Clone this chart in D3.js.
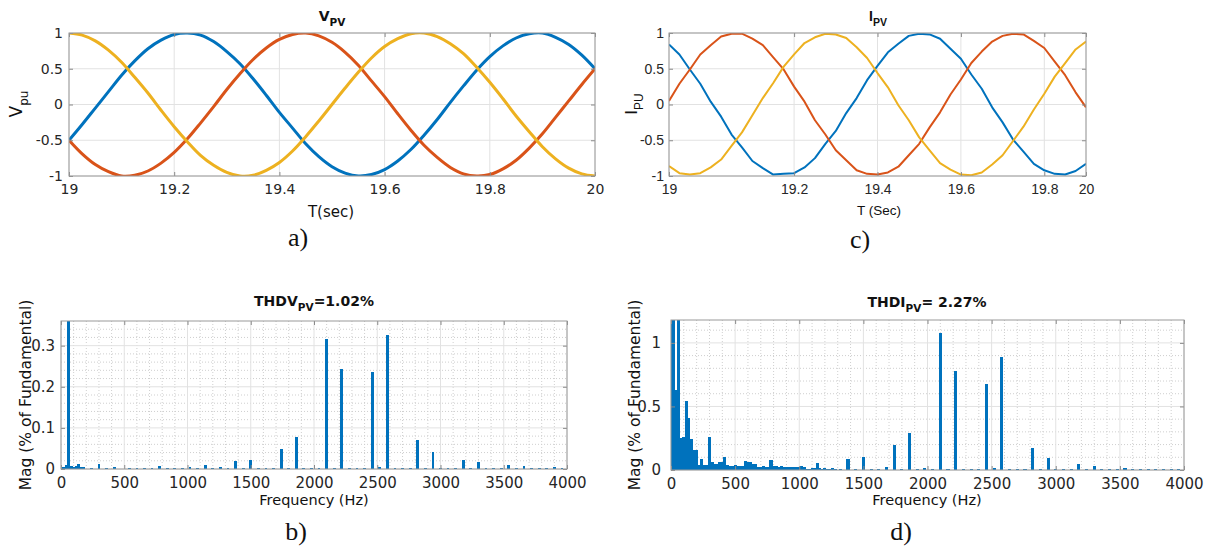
<!DOCTYPE html>
<html>
<head>
<meta charset="utf-8">
<script src="https://cdn.jsdelivr.net/npm/d3@7"></script>
<style>
  body { margin: 0; background: #fff; }
  svg { display: block; }
</style>
</head>
<body>
<svg id="fig" width="1210" height="552"></svg>
<script>
// ---- data ----
var timeSec = [19, 19.025, 19.05, 19.075, 19.1, 19.125, 19.15, 19.175, 19.2, 19.225,
  19.25, 19.275, 19.3, 19.325, 19.35, 19.375, 19.4, 19.425, 19.45, 19.475,
  19.5, 19.525, 19.55, 19.575, 19.6, 19.625, 19.65, 19.675, 19.7, 19.725,
  19.75, 19.775, 19.8, 19.825, 19.85, 19.875, 19.9, 19.925, 19.95, 19.975, 20];

// V_PV (per unit), phases a/b/c
var vBlue = [-0.50, -0.28, -0.05, 0.18, 0.41, 0.61, 0.78, 0.90, 0.98, 1.00, 0.97, 0.88, 0.74, 0.57, 0.36, 0.13,
  -0.11, -0.33, -0.55, -0.73, -0.87, -0.96, -1.00, -0.98, -0.91, -0.79, -0.63, -0.43, -0.21, 0.03, 0.26,
  0.48, 0.67, 0.82, 0.93, 0.99, 1.00, 0.94, 0.84, 0.69, 0.50];
var vRed = [-0.50, -0.69, -0.84, -0.94, -1.00, -0.99, -0.93, -0.82, -0.67, -0.48, -0.26, -0.03, 0.21, 0.43,
  0.63, 0.79, 0.91, 0.98, 1.00, 0.96, 0.87, 0.73, 0.55, 0.33, 0.11, -0.13, -0.36, -0.57, -0.74, -0.88,
  -0.97, -1.00, -0.98, -0.90, -0.78, -0.61, -0.41, -0.18, 0.05, 0.28, 0.50];
var vYellow = [1.00, 0.97, 0.89, 0.76, 0.59, 0.38, 0.16, -0.08, -0.31, -0.52, -0.71, -0.85, -0.95, -1.00,
  -0.99, -0.92, -0.81, -0.65, -0.45, -0.23, 0.00, 0.23, 0.45, 0.65, 0.81, 0.92, 0.99, 1.00, 0.95, 0.85,
  0.71, 0.52, 0.31, 0.08, -0.16, -0.38, -0.59, -0.76, -0.89, -0.97, -1.00];

// I_PV (per unit)
var iBlue = [0.84, 0.70, 0.49, 0.29, 0.04, -0.17, -0.42, -0.60, -0.79, -0.89, -0.98, -0.97, -0.96, -0.88,
  -0.75, -0.55, -0.37, -0.12, 0.09, 0.34, 0.54, 0.73, 0.85, 0.96, 0.99, 0.98, 0.92, 0.78, 0.64, 0.42,
  0.22, -0.04, -0.25, -0.49, -0.66, -0.83, -0.92, -0.97, -0.98, -0.93, -0.83];
var iRed = [0.05, 0.29, 0.49, 0.70, 0.83, 0.95, 0.99, 0.99, 0.92, 0.83, 0.66, 0.49, 0.25, 0.04, -0.22,
  -0.42, -0.64, -0.78, -0.92, -0.97, -0.98, -0.95, -0.87, -0.71, -0.55, -0.32, -0.11, 0.14, 0.35, 0.58,
  0.74, 0.88, 0.96, 0.99, 0.98, 0.89, 0.79, 0.60, 0.41, 0.17, -0.04];
var iYellow = [-0.86, -0.96, -0.98, -0.96, -0.88, -0.77, -0.58, -0.39, -0.15, 0.09, 0.30, 0.53, 0.70,
  0.86, 0.94, 0.99, 0.98, 0.93, 0.80, 0.65, 0.44, 0.24, -0.01, -0.22, -0.46, -0.64, -0.82, -0.91, -0.98,
  -0.99, -0.95, -0.84, -0.71, -0.51, -0.31, -0.07, 0.15, 0.39, 0.58, 0.77, 0.88];

var timeTicks = [19, 19.2, 19.4, 19.6, 19.8, 20];
var timeTickLabels = ["19", "19.2", "19.4", "19.6", "19.8", "20"];
// in the current plot the labels sit at these positions
var iTimeTicks = [19, 19.3, 19.5, 19.7, 19.9, 20];
var puTicks = [-1, -0.5, 0, 0.5, 1];
var puTickLabels = ["-1", "-0.5", "0", "0.5", "1"];

// THD spectrum of the voltage (Hz, % of fundamental)
var vFreq = [20, 40, 60, 80, 100, 120, 140, 160, 180, 240, 300, 360, 420, 480, 540, 600, 660, 720, 780,
  840, 900, 960, 1020, 1080, 1140, 1200, 1260, 1320, 1380, 1440, 1500, 1560, 1620, 1680, 1740, 1800,
  1860, 1920, 1980, 2040, 2100, 2160, 2220, 2280, 2340, 2400, 2460, 2520, 2580, 2640, 2700, 2760, 2820,
  2880, 2940, 3000, 3060, 3120, 3180, 3240, 3300, 3360, 3420, 3480, 3540, 3600, 3660, 3720, 3780, 3840,
  3900, 3960];
var vMag = [0.004, 0.010, 100, 0.008, 0.006, 0.008, 0.012, 0.006, 0.004, 0.002, 0.013, 0.002, 0.004,
  0.001, 0.002, 0.003, 0.003, 0.002, 0.007, 0.002, 0.002, 0.002, 0.004, 0.002, 0.010, 0.003, 0.005,
  0.002, 0.019, 0.002, 0.023, 0.002, 0.003, 0.003, 0.048, 0.002, 0.077, 0.002, 0.003, 0.002, 0.317,
  0.003, 0.244, 0.002, 0.003, 0.003, 0.235, 0.005, 0.327, 0.003, 0.002, 0.003, 0.071, 0.003, 0.042,
  0.003, 0.002, 0.003, 0.021, 0.002, 0.016, 0.002, 0.002, 0.002, 0.010, 0.003, 0.008, 0.003, 0.003,
  0.002, 0.006, 0.002];

// THD spectrum of the current
var iFreq = [0, 20, 40, 60, 80, 100, 120, 140, 160, 180, 200, 220, 240, 260, 280, 300, 320, 340, 360,
  380, 400, 420, 440, 460, 480, 500, 520, 540, 560, 580, 600, 620, 640, 660, 680, 700, 720, 740, 760,
  780, 800, 820, 840, 860, 880, 900, 920, 940, 960, 980, 1000, 1020, 1040, 1060, 1080, 1100, 1120, 1140,
  1160, 1180, 1200, 1220, 1240, 1260, 1280, 1320, 1380, 1440, 1500, 1560, 1620, 1680, 1740, 1800, 1860,
  1920, 1980, 2040, 2100, 2160, 2220, 2280, 2340, 2400, 2460, 2520, 2580, 2640, 2700, 2760, 2820, 2880,
  2940, 3000, 3060, 3120, 3180, 3240, 3300, 3360, 3420, 3480, 3540, 3600, 3660, 3720, 3780, 3840, 3900,
  3960];
var iMag = [1.5, 1.4, 0.63, 100, 0.25, 0.26, 0.54, 0.41, 0.24, 0.16, 0.16, 0.04, 0.09, 0.04, 0.04, 0.26,
  0.065, 0.05, 0.05, 0.06, 0.06, 0.105, 0.04, 0.035, 0.03, 0.04, 0.035, 0.03, 0.03, 0.07, 0.065, 0.06,
  0.05, 0.05, 0.025, 0.025, 0.03, 0.025, 0.025, 0.076, 0.03, 0.03, 0.025, 0.03, 0.02, 0.025, 0.02, 0.02,
  0.02, 0.025, 0.02, 0.03, 0.02, 0.01, 0.01, 0.015, 0.015, 0.052, 0.015, 0.01, 0.015, 0.01, 0.01, 0.015,
  0.005, 0.005, 0.086, 0.005, 0.105, 0.004, 0.005, 0.02, 0.196, 0.01, 0.293, 0.008, 0.012, 0.01, 1.074,
  0.008, 0.778, 0.008, 0.008, 0.01, 0.678, 0.015, 0.89, 0.006, 0.005, 0.008, 0.175, 0.01, 0.094, 0.008,
  0.005, 0.01, 0.044, 0.008, 0.034, 0.006, 0.004, 0.004, 0.018, 0.005, 0.01, 0.004, 0.006, 0.004, 0.008,
  0.004];

var freqTicks = [0, 500, 1000, 1500, 2000, 2500, 3000, 3500, 4000];
var vMagTicks = [0, 0.1, 0.2, 0.3];
var iMagTicks = [0, 0.5, 1];

var phaseColors = ["#0072bd", "#d95319", "#edb120"];
var barColor = "#0072bd";

// ---- drawing ----
var svg = d3.select("#fig");
var clipCount = 0;

function addPanel(o) {
  var w = o.right - o.left, h = o.bottom - o.top;
  var g = svg.append("g").attr("transform", "translate(" + o.left + "," + o.top + ")");
  var x = d3.scaleLinear().domain(o.xDomain).range([0, w]);
  var y = d3.scaleLinear().domain(o.yDomain).range([h, 0]);

  if (o.xMinor) {
    g.append("g").selectAll("line").data(o.xMinor).enter().append("line")
      .attr("x1", x).attr("x2", x).attr("y1", 0).attr("y2", h)
      .attr("stroke", "#cfcfcf").attr("stroke-dasharray", "1,2");
    g.append("g").selectAll("line").data(o.yMinor).enter().append("line")
      .attr("y1", y).attr("y2", y).attr("x1", 0).attr("x2", w)
      .attr("stroke", "#cfcfcf").attr("stroke-dasharray", "1,2");
  }
  g.append("g").selectAll("line").data(o.xTicks).enter().append("line")
    .attr("x1", x).attr("x2", x).attr("y1", 0).attr("y2", h)
    .attr("stroke", "#e2e2e2");
  g.append("g").selectAll("line").data(o.yTicks).enter().append("line")
    .attr("y1", y).attr("y2", y).attr("x1", 0).attr("x2", w)
    .attr("stroke", "#e2e2e2");

  var id = "clip" + (++clipCount);
  g.append("clipPath").attr("id", id).append("rect").attr("width", w).attr("height", h);
  var plot = g.append("g").attr("clip-path", "url(#" + id + ")");

  var xl = o.xLabels, yl = o.yLabels;
  g.append("g").attr("transform", "translate(0," + h + ")")
    .call(d3.axisBottom(x).tickValues(o.xTicks)
      .tickFormat(function(d, i) { return xl ? xl[i] : d; })
      .tickSizeInner(-4).tickSizeOuter(0).tickPadding(o.xPad));
  g.append("g")
    .call(d3.axisLeft(y).tickValues(o.yTicks)
      .tickFormat(function(d, i) { return yl ? yl[i] : d; })
      .tickSizeInner(-4).tickSizeOuter(0).tickPadding(o.yPad));
  g.append("g").call(d3.axisTop(x).tickValues(o.xTicks).tickFormat("").tickSize(-4).tickSizeOuter(0));
  g.append("g").attr("transform", "translate(" + w + ",0)")
    .call(d3.axisRight(y).tickValues(o.yTicks).tickFormat("").tickSize(-4).tickSizeOuter(0));

  g.selectAll(".domain").remove();
  g.selectAll(".tick line").attr("stroke", "#8a8a8a");
  g.selectAll(".tick text")
    .style("font-family", o.font).style("font-size", o.tickSize + "px").attr("fill", "#262626");

  g.append("rect").attr("width", w).attr("height", h)
    .attr("fill", "none").attr("stroke", "#9a9a9a").attr("stroke-width", 1);

  return {g: g, plot: plot, x: x, y: y, w: w, h: h};
}

// text with subscript parts: [["V", 0], ["PV", 1], ...]
function richText(parent, parts, size, subSize, bold, font) {
  var t = parent.append("text")
    .style("font-family", font).style("font-size", size + "px")
    .style("font-weight", bold ? "bold" : "normal").attr("fill", "#111");
  var low = false;
  parts.forEach(function(p) {
    var s = t.append("tspan").text(p[0]);
    if (p[1]) { s.style("font-size", subSize + "px"); if (!low) s.attr("dy", size * 0.38); low = true; }
    else { if (low) s.attr("dy", -size * 0.38); low = false; }
  });
  return t;
}

function drawWaves(p, series, width, curve) {
  var line = d3.line()
    .x(function(d, i) { return p.x(timeSec[i]); })
    .y(function(d) { return p.y(d); })
    .curve(curve);
  series.forEach(function(s, k) {
    p.plot.append("path").datum(s)
      .attr("fill", "none").attr("stroke", phaseColors[k])
      .attr("stroke-width", width).attr("stroke-linejoin", "round")
      .attr("d", line);
  });
}

function drawBars(p, freq, mag, hz) {
  var bw = p.x(hz) - p.x(0);
  p.plot.selectAll("rect.bar").data(freq).enter().append("rect")
    .attr("class", "bar")
    .attr("x", function(d) { return p.x(d) - bw / 2; })
    .attr("width", bw)
    .attr("y", function(d, i) { return p.y(mag[i]); })
    .attr("height", function(d, i) { return p.h - p.y(mag[i]); })
    .attr("shape-rendering", "crispEdges")
    .attr("fill", barColor);
}

var sansW = '"DejaVu Sans", sans-serif';
var sansN = '"Liberation Sans", Arial, sans-serif';
var serif = '"Liberation Serif", "Times New Roman", serif';

// a) V_PV
var pa = addPanel({left: 69, right: 595, top: 33, bottom: 176, xDomain: [19, 20], yDomain: [-1, 1],
  xTicks: timeTicks, xLabels: timeTickLabels, yTicks: puTicks, yLabels: puTickLabels,
  xPad: 8, yPad: 6, font: sansW, tickSize: 14});
drawWaves(pa, [vBlue, vRed, vYellow], 3, d3.curveCatmullRom);
richText(svg, [["V", 0], ["PV", 1]], 14, 10.5, true, sansW)
  .attr("x", 332).attr("y", 21).attr("text-anchor", "middle");
richText(svg, [["T(sec)", 0]], 15, 15, false, sansW)
  .attr("x", 331).attr("y", 217).attr("text-anchor", "middle");
richText(svg, [["V", 0], ["pu", 1]], 17, 12, false, sansW)
  .attr("text-anchor", "middle").attr("transform", "translate(22,104) rotate(-90)");

// c) I_PV
var pc = addPanel({left: 669, right: 1086, top: 33, bottom: 176, xDomain: [19, 20], yDomain: [-1, 1],
  xTicks: iTimeTicks, xLabels: timeTickLabels, yTicks: puTicks, yLabels: puTickLabels,
  xPad: 8, yPad: 5, font: sansN, tickSize: 14});
drawWaves(pc, [iBlue, iRed, iYellow], 2, d3.curveLinear);
richText(svg, [["I", 0], ["PV", 1]], 14, 10.5, true, sansN)
  .attr("x", 878).attr("y", 21).attr("text-anchor", "middle");
richText(svg, [["T (Sec)", 0]], 13.5, 13.5, false, sansN)
  .attr("x", 879).attr("y", 215).attr("text-anchor", "middle");
richText(svg, [["I", 0], ["PU", 1]], 17, 12, false, sansN)
  .attr("text-anchor", "middle").attr("transform", "translate(637,104) rotate(-90)");

// b) voltage spectrum
var freqMinor = d3.range(100, 4000, 100).filter(function(f) { return f % 500 !== 0; });
var pb = addPanel({left: 61, right: 567, top: 321, bottom: 469, xDomain: [0, 4000], yDomain: [0, 0.36],
  xTicks: freqTicks, yTicks: vMagTicks,
  xMinor: freqMinor, yMinor: [0.02, 0.04, 0.06, 0.08, 0.12, 0.14, 0.16, 0.18, 0.22, 0.24, 0.26, 0.28, 0.32, 0.34],
  xPad: 8, yPad: 6, font: sansW, tickSize: 15});
drawBars(pb, vFreq, vMag, 22);
richText(svg, [["THDV", 0], ["PV", 1], ["=1.02%", 0]], 14, 10.5, true, sansW)
  .attr("x", 314).attr("y", 306).attr("text-anchor", "middle");
richText(svg, [["Frequency (Hz)", 0]], 14.5, 14.5, false, sansW)
  .attr("x", 314).attr("y", 505).attr("text-anchor", "middle");
richText(svg, [["Mag (% of Fundamental)", 0]], 15.5, 15.5, false, sansW)
  .attr("text-anchor", "middle").attr("transform", "translate(31,395) rotate(-90)");

// d) current spectrum
var pd = addPanel({left: 671, right: 1184, top: 320, bottom: 470, xDomain: [0, 4000], yDomain: [0, 1.18],
  xTicks: freqTicks, yTicks: iMagTicks,
  xMinor: freqMinor, yMinor: [0.1, 0.2, 0.3, 0.4, 0.6, 0.7, 0.8, 0.9, 1.1],
  xPad: 8, yPad: 10, font: sansW, tickSize: 15});
drawBars(pd, iFreq, iMag, 24);
richText(svg, [["THDI", 0], ["PV", 1], ["= 2.27%", 0]], 14, 10.5, true, sansW)
  .attr("x", 927).attr("y", 307).attr("text-anchor", "middle");
richText(svg, [["Frequency (Hz)", 0]], 14.5, 14.5, false, sansW)
  .attr("x", 927).attr("y", 505).attr("text-anchor", "middle");
richText(svg, [["Mag (% of Fundamental)", 0]], 15.5, 15.5, false, sansW)
  .attr("text-anchor", "middle").attr("transform", "translate(640,395) rotate(-90)");

// sub-figure letters
var letters = [["a)", 298, 246], ["c)", 860, 248], ["b)", 296, 540], ["d)", 901, 540]];
svg.selectAll("text.letter").data(letters).enter().append("text")
  .attr("class", "letter")
  .attr("x", function(d) { return d[1]; }).attr("y", function(d) { return d[2]; })
  .attr("text-anchor", "middle")
  .style("font-family", serif).style("font-size", "26px").attr("fill", "#111")
  .text(function(d) { return d[0]; });
</script>
</body>
</html>
